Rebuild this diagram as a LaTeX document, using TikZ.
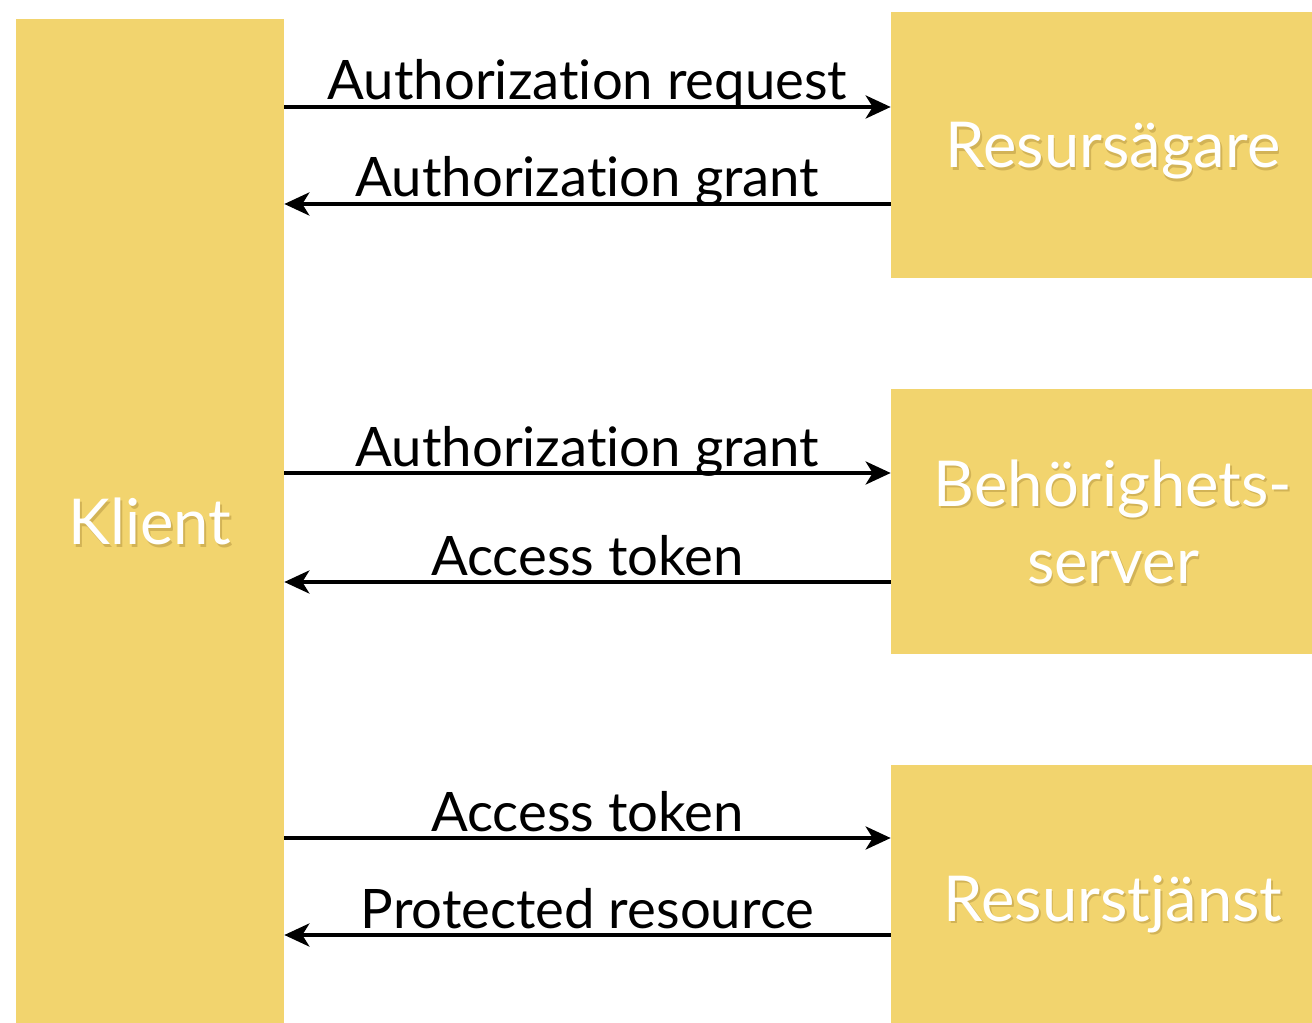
\documentclass[tikz,border=0pt]{standalone}
\usepackage{fontspec}
\setmainfont[Ligatures={NoCommon}]{Lato}
\usepackage{xcolor}
\usetikzlibrary{arrows.meta}

\definecolor{paper}{HTML}{F2D46E}
\definecolor{shade}{HTML}{D2B356}
\newcommand{\shadowed}[1]{\leavevmode\rlap{\kern1pt\raisebox{-1.6pt}{\color{shade}#1}}#1}

\tikzset{
    party/.style={fill=paper, draw=none, inner sep=0pt, text depth=0pt, text=white, align=center, font=\fontsize{36}{44}\selectfont},
    msg/.style={anchor=base, yshift=0.14cm, inner sep=0pt, font=\fontsize{31}{36}\selectfont},
    flow/.style={line width=2.3pt, -{Stealth[length=0.5cm, width=0.46cm, inset=0.14cm]}}
}

\begin{document}
\begin{tikzpicture}[x=0.02cm, y=-0.02cm]
                \clip (0,0) rectangle (1312,1023);
                \fill[white] (0,0) rectangle (1312,1023);
                \node[party, minimum width=5.36cm, minimum height=20.08cm] at (150,521) (klient) {\shadowed{Klient}};
                \node[party, minimum width=8.88cm, minimum height=5.32cm] at (1113,145) (agare) {\shadowed{Resursägare}};
                \node[party, minimum width=8.88cm, minimum height=5.32cm] at (1113,521.5) (server) {\shadowed{Behörighets-}\\\shadowed{server}};
                \node[party, minimum width=8.88cm, minimum height=5.32cm] at (1113,898) (tjanst) {\shadowed{Resurstjänst}};
                \path[flow]
                    (klient.east |- 0,107)  edge node[msg] {Authorization request} (agare.west |- 0,107)
                    (agare.west |- 0,204)  edge node[msg] {Authorization grant} (klient.east |- 0,204)
                    (klient.east |- 0,473)  edge node[msg] {Authorization grant} (server.west |- 0,473)
                    (server.west |- 0,582)  edge node[msg] {Access token} (klient.east |- 0,582)
                    (klient.east |- 0,838)  edge node[msg] {Access token} (tjanst.west |- 0,838)
                    (tjanst.west |- 0,935)  edge node[msg] {Protected resource} (klient.east |- 0,935);
            \end{tikzpicture}
\end{document}
